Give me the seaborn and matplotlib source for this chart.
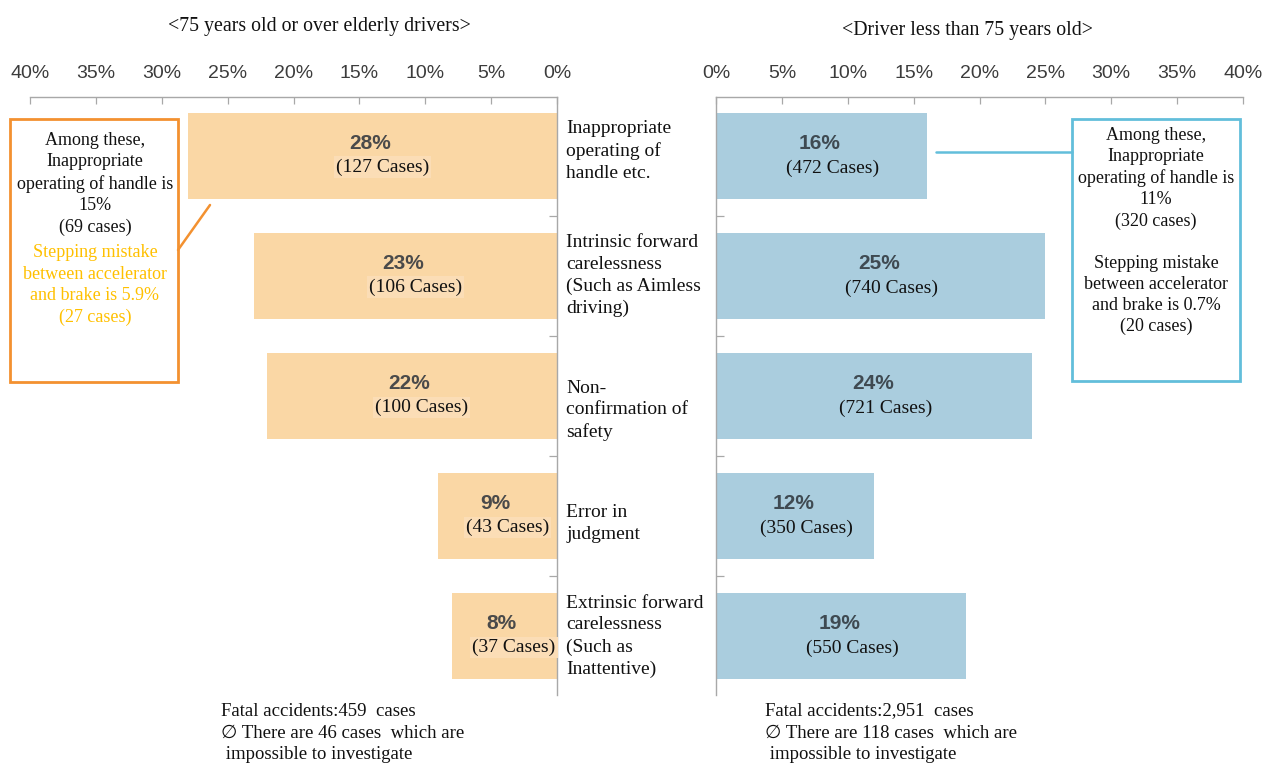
import matplotlib
matplotlib.use("Agg")
import matplotlib.pyplot as plt
import matplotlib.transforms as mtransforms
from matplotlib.patches import Rectangle
from matplotlib.lines import Line2D
import seaborn as sns
import pandas as pd

# ---- data -------------------------------------------------------------
causes = [
    "Inappropriate\noperating of\nhandle etc.",
    "Intrinsic forward\ncarelessness\n(Such as Aimless\ndriving)",
    "Non-\nconfirmation of\nsafety",
    "Error in\njudgment",
    "Extrinsic forward\ncarelessness\n(Such as\nInattentive)",
]
elderly_pct = [28, 23, 22, 9, 8]
elderly_cases = [127, 106, 100, 43, 37]
younger_pct = [16, 25, 24, 12, 19]
younger_cases = [472, 740, 721, 350, 550]
tick_values = [0, 5, 10, 15, 20, 25, 30, 35, 40]
tick_labels = [f"{v}%" for v in tick_values]

title_elderly = "<75 years old or over elderly drivers>"
title_younger = "<Driver less than 75 years old>"
note_elderly = "Fatal accidents:459  cases\n\u2205 There are 46 cases  which are\n impossible to investigate"
note_younger = "Fatal accidents:2,951  cases\n\u2205 There are 118 cases  which are\n impossible to investigate"
box_elderly_main = "Among these,\nInappropriate\noperating of handle is\n15%\n(69 cases)"
box_elderly_pedal = "Stepping mistake\nbetween accelerator\nand brake is 5.9%\n(27 cases)"
box_younger = ("Among these,\nInappropriate\noperating of handle is\n11%\n(320 cases)\n\n"
               "Stepping mistake\nbetween accelerator\nand brake is 0.7%\n(20 cases)")

# ---- style ------------------------------------------------------------
sns.set_theme(style="white")
SERIF = ["Liberation Serif", "DejaVu Serif", "DejaVu Sans"]
SANS = ["Liberation Sans", "DejaVu Sans"]
plt.rcParams["font.family"] = SERIF

ORANGE_BAR = "#FAD7A5"
BLUE_BAR = "#AACDDE"
ORANGE_EDGE = "#F39130"
BLUE_EDGE = "#62BEDB"
PEDAL_YELLOW = "#FFC000"
AXIS_GREY = "#A8A8A8"

W, H = 1263, 765
fig = plt.figure(figsize=(W / 100, H / 100), dpi=100)


def fx(x):
    return x / W


def fy(y):
    return 1 - y / H


ax_top, ax_bot = 97, 695
axL = fig.add_axes([fx(30), fy(ax_bot), fx(557) - fx(30), fy(ax_top) - fy(ax_bot)])
axR = fig.add_axes([fx(716), fy(ax_bot), fx(1243) - fx(716), fy(ax_top) - fy(ax_bot)])

df_old = pd.DataFrame({"cause": causes, "share": elderly_pct})
df_young = pd.DataFrame({"cause": causes, "share": younger_pct})

sns.barplot(data=df_old, y="cause", x="share", orient="h", color=ORANGE_BAR,
            saturation=1, width=0.72, linewidth=0, ax=axL)
sns.barplot(data=df_young, y="cause", x="share", orient="h", color=BLUE_BAR,
            saturation=1, width=0.72, linewidth=0, ax=axR)

n = len(causes)
for ax, side in ((axL, "right"), (axR, "left")):
    ax.set_ylim(n - 0.51, -0.49)
    ax.set_xlabel("")
    ax.set_ylabel("")
    ax.grid(False)
    ax.set_facecolor("none")
    for name, sp in ax.spines.items():
        sp.set_visible(name in ("top", side))
        sp.set_color(AXIS_GREY)
        sp.set_linewidth(1.0)
    ax.xaxis.tick_top()
    ax.set_xticks(tick_values)
    ax.set_xticklabels(tick_labels)
    ax.tick_params(axis="x", direction="in", length=5, width=0.9, color=AXIS_GREY,
                   pad=11, labelsize=14, labelcolor="#3c3c3c")
    for lab in ax.get_xticklabels():
        lab.set_family(SANS)
    # short separators between the cause rows
    ax.set_yticks([i + 0.5 for i in range(n - 1)])
    ax.set_yticklabels([])
    if side == "right":
        ax.yaxis.tick_right()
    else:
        ax.yaxis.tick_left()
    ax.tick_params(axis="y", direction="in", length=6, width=0.9, color=AXIS_GREY)

axL.set_xlim(40, 0)
axR.set_xlim(0, 40)

# ---- value labels inside the bars ------------------------------------
for i, (p, c) in enumerate(zip(elderly_pct, elderly_cases)):
    axL.annotate(f"{p}%", (p / 2, i), xytext=(-2, 9), textcoords="offset points",
                 ha="center", va="center", fontsize=15, fontweight="bold",
                 color="#4a4a4a", family=SANS)
    axL.annotate(f"({c} Cases)", (p / 2, i), xytext=(7, -8), textcoords="offset points",
                 ha="center", va="center", fontsize=14, color="#111111", family=SERIF,
                 bbox=dict(boxstyle="square,pad=0.1", fc="#FBDDB6", ec="none"))

for i, (p, c) in enumerate(zip(younger_pct, younger_cases)):
    axR.annotate(f"{p}%", (p / 2, i), xytext=(-1, 9), textcoords="offset points",
                 ha="center", va="center", fontsize=15, fontweight="bold",
                 color="#3f4a52", family=SANS)
    axR.annotate(f"({c} Cases)", (p / 2, i), xytext=(8, -9), textcoords="offset points",
                 ha="center", va="center", fontsize=14, color="#111111", family=SERIF)

# ---- cause names between the panels -----------------------------------
row_shift = [-0.04, 0.0, 0.12, 0.06, 0.0]
mid = mtransforms.blended_transform_factory(fig.transFigure, axL.transData)
for i, name in enumerate(causes):
    fig.text(fx(566), i + row_shift[i], name, transform=mid, ha="left", va="center",
             fontsize=14, linespacing=1.36, family=SERIF, color="#111111")

# ---- panel titles -----------------------------------------------------
fig.text(fx(319), fy(26), title_elderly, ha="center", va="center", fontsize=14.3,
         family=SERIF, color="#111111")
fig.text(fx(968), fy(30), title_younger, ha="center", va="center", fontsize=14.3,
         family=SERIF, color="#111111")

# ---- call-out boxes ---------------------------------------------------
def box(x0, y0, x1, y1, edge):
    fig.add_artist(Rectangle((fx(x0), fy(y1)), fx(x1) - fx(x0), fy(y0) - fy(y1),
                             transform=fig.transFigure, fill=False, ec=edge, lw=2.0))


box(10, 119, 178, 382, ORANGE_EDGE)
fig.add_artist(Line2D([fx(178), fx(210)], [fy(250), fy(205)], transform=fig.transFigure,
                      color=ORANGE_EDGE, lw=1.8))
fig.text(fx(95), fy(184), box_elderly_main, ha="center", va="center", fontsize=13,
         linespacing=1.35, family=SERIF, color="#111111")
fig.text(fx(95), fy(285), box_elderly_pedal, ha="center", va="center", fontsize=13,
         linespacing=1.35, family=SERIF, color=PEDAL_YELLOW)

box(1072, 119, 1240, 381, BLUE_EDGE)
fig.add_artist(Line2D([fx(936), fx(1072)], [fy(152), fy(152)], transform=fig.transFigure,
                      color=BLUE_EDGE, lw=1.8))
fig.text(fx(1156), fy(231), box_younger, ha="center", va="center", fontsize=13,
         linespacing=1.31, family=SERIF, color="#111111")

# ---- notes under the panels -------------------------------------------
fig.text(fx(221), fy(733), note_elderly, ha="left", va="center", fontsize=13.5,
         linespacing=1.38, family=SERIF, color="#111111")
fig.text(fx(765), fy(733), note_younger, ha="left", va="center", fontsize=13.5,
         linespacing=1.38, family=SERIF, color="#111111")

fig.savefig("out.png", dpi=100, facecolor="white")
